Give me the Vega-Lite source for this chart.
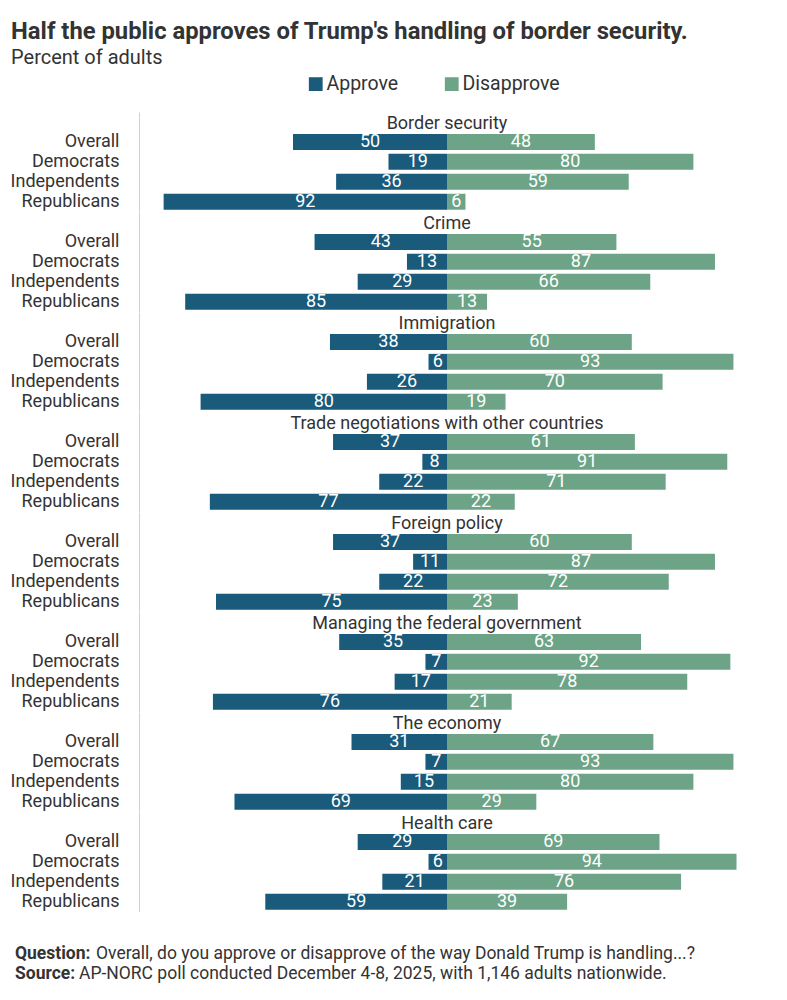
{
  "$schema": "https://vega.github.io/schema/vega-lite/v6.json",
  "background": "white",
  "padding": {"left": 10, "top": 20, "right": 5, "bottom": 5},
  "config": {
    "font": "Roboto",
    "view": {"stroke": null}
  },
  "title": {
    "text": "Half the public approves of Trump's handling of border security.",
    "subtitle": "Percent of adults",
    "anchor": "start",
    "frame": "bounds",
    "fontSize": 23.8,
    "fontWeight": "bold",
    "color": "#333333",
    "subtitleFontSize": 20,
    "subtitleColor": "#333333",
    "subtitlePadding": 4,
    "offset": 6,
    "dx": 1
  },
  "datasets": {
    "poll": [
      {"topic": "Border security", "group": "Overall", "approve": 50, "disapprove": 48},
      {"topic": "Border security", "group": "Democrats", "approve": 19, "disapprove": 80},
      {"topic": "Border security", "group": "Independents", "approve": 36, "disapprove": 59},
      {"topic": "Border security", "group": "Republicans", "approve": 92, "disapprove": 6},
      {"topic": "Crime", "group": "Overall", "approve": 43, "disapprove": 55},
      {"topic": "Crime", "group": "Democrats", "approve": 13, "disapprove": 87},
      {"topic": "Crime", "group": "Independents", "approve": 29, "disapprove": 66},
      {"topic": "Crime", "group": "Republicans", "approve": 85, "disapprove": 13},
      {"topic": "Immigration", "group": "Overall", "approve": 38, "disapprove": 60},
      {"topic": "Immigration", "group": "Democrats", "approve": 6, "disapprove": 93},
      {"topic": "Immigration", "group": "Independents", "approve": 26, "disapprove": 70},
      {"topic": "Immigration", "group": "Republicans", "approve": 80, "disapprove": 19},
      {"topic": "Trade negotiations with other countries", "group": "Overall", "approve": 37, "disapprove": 61},
      {"topic": "Trade negotiations with other countries", "group": "Democrats", "approve": 8, "disapprove": 91},
      {"topic": "Trade negotiations with other countries", "group": "Independents", "approve": 22, "disapprove": 71},
      {"topic": "Trade negotiations with other countries", "group": "Republicans", "approve": 77, "disapprove": 22},
      {"topic": "Foreign policy", "group": "Overall", "approve": 37, "disapprove": 60},
      {"topic": "Foreign policy", "group": "Democrats", "approve": 11, "disapprove": 87},
      {"topic": "Foreign policy", "group": "Independents", "approve": 22, "disapprove": 72},
      {"topic": "Foreign policy", "group": "Republicans", "approve": 75, "disapprove": 23},
      {"topic": "Managing the federal government", "group": "Overall", "approve": 35, "disapprove": 63},
      {"topic": "Managing the federal government", "group": "Democrats", "approve": 7, "disapprove": 92},
      {"topic": "Managing the federal government", "group": "Independents", "approve": 17, "disapprove": 78},
      {"topic": "Managing the federal government", "group": "Republicans", "approve": 76, "disapprove": 21},
      {"topic": "The economy", "group": "Overall", "approve": 31, "disapprove": 67},
      {"topic": "The economy", "group": "Democrats", "approve": 7, "disapprove": 93},
      {"topic": "The economy", "group": "Independents", "approve": 15, "disapprove": 80},
      {"topic": "The economy", "group": "Republicans", "approve": 69, "disapprove": 29},
      {"topic": "Health care", "group": "Overall", "approve": 29, "disapprove": 69},
      {"topic": "Health care", "group": "Democrats", "approve": 6, "disapprove": 94},
      {"topic": "Health care", "group": "Independents", "approve": 21, "disapprove": 76},
      {"topic": "Health care", "group": "Republicans", "approve": 59, "disapprove": 39}
    ],
    "notes": [
      {"line": 1, "label": "Question:", "text": "Overall, do you approve or disapprove of the way Donald Trump is handling...?"},
      {"line": 2, "label": "Source:", "text": "AP-NORC poll conducted December 4-8, 2025, with 1,146 adults nationwide."}
    ]
  },
  "columns": 1,
  "align": "none",
  "spacing": 32,
  "concat": [
    {
      "data": {"name": "poll"},
      "facet": {
        "row": {
          "field": "topic",
          "type": "nominal",
          "sort": ["Border security", "Crime", "Immigration", "Trade negotiations with other countries", "Foreign policy", "Managing the federal government", "The economy", "Health care"],
          "header": null
        }
      },
      "spacing": {"row": 0},
      "spec": {
        "width": 616,
        "height": 99.7,
        "encoding": {
          "y": {
            "field": "group",
            "type": "nominal",
            "scale": {"domain": ["Topic", "Overall", "Democrats", "Independents", "Republicans"], "paddingInner": 0.2, "paddingOuter": 0.1},
            "axis": {
              "title": null,
              "ticks": false,
              "domain": true,
              "domainColor": "#d0d0d0",
              "domainWidth": 1,
              "labelFontSize": 18,
              "labelColor": "#333333",
              "labelPadding": 20,
              "labelExpr": "datum.value == 'Topic' ? '' : datum.value"
            }
          }
        },
        "layer": [
          {
            "layer": [
              {
                "mark": {"type": "bar"},
                "encoding": {
                  "x": {"field": "approve", "type": "quantitative", "scale": {"domain": [-100, 100], "reverse": true}, "axis": null},
                  "color": {
                    "datum": "Approve",
                    "scale": {"domain": ["Approve", "Disapprove"], "range": ["#1a5a7b", "#6da487"]},
                    "legend": {
                      "title": null,
                      "orient": "none",
                      "legendX": 167,
                      "legendY": -38,
                      "direction": "horizontal",
                      "symbolType": "square",
                      "symbolSize": 190,
                      "symbolStrokeWidth": 0,
                      "labelFontSize": 19.5,
                      "labelColor": "#333333",
                      "labelOffset": 1,
                      "columnPadding": 43
                    }
                  }
                }
              },
              {
                "mark": {"type": "text", "color": "white", "fontSize": 18, "baseline": "middle", "align": "center"},
                "encoding": {
                  "x": {"field": "approve", "type": "quantitative", "stack": "zero", "bandPosition": 0.5},
                  "text": {"field": "approve", "type": "quantitative"}
                }
              }
            ]
          },
          {
            "layer": [
              {
                "mark": {"type": "bar"},
                "encoding": {
                  "x": {"field": "disapprove", "type": "quantitative", "scale": {"domain": [-100, 100]}, "axis": null},
                  "color": {"datum": "Disapprove"}
                }
              },
              {
                "mark": {"type": "text", "color": "white", "fontSize": 18, "baseline": "middle", "align": "center"},
                "encoding": {
                  "x": {"field": "disapprove", "type": "quantitative", "stack": "zero", "bandPosition": 0.5},
                  "text": {"field": "disapprove", "type": "quantitative"}
                }
              },
              {
                "transform": [{"filter": "datum.group == 'Overall'"}],
                "mark": {"type": "text", "color": "#333333", "fontSize": 18, "baseline": "middle", "align": "center", "dy": 2},
                "encoding": {
                  "x": {"datum": 0, "type": "quantitative"},
                  "y": {"datum": "Topic", "type": "nominal"},
                  "text": {"field": "topic", "type": "nominal"}
                }
              }
            ]
          }
        ],
        "resolve": {"scale": {"x": "independent"}}
      }
    },
    {
      "data": {"name": "notes"},
      "width": 616,
      "height": 40,
      "encoding": {
        "x": {"datum": 0, "type": "quantitative", "scale": {"domain": [0, 1]}, "axis": null},
        "y": {"field": "line", "type": "ordinal", "scale": {"paddingInner": 0, "paddingOuter": 0}, "axis": null}
      },
      "layer": [
        {
          "mark": {"type": "text", "fontSize": 17.5, "fontWeight": "bold", "color": "#333333", "align": "left", "baseline": "middle", "dx": -124},
          "encoding": {"text": {"field": "label", "type": "nominal"}}
        },
        {
          "transform": [{"filter": "datum.line == 1"}],
          "mark": {"type": "text", "fontSize": 17.5, "color": "#333333", "align": "left", "baseline": "middle", "dx": -43},
          "encoding": {"text": {"field": "text", "type": "nominal"}}
        },
        {
          "transform": [{"filter": "datum.line == 2"}],
          "mark": {"type": "text", "fontSize": 17.5, "color": "#333333", "align": "left", "baseline": "middle", "dx": -60},
          "encoding": {"text": {"field": "text", "type": "nominal"}}
        }
      ]
    }
  ]
}
